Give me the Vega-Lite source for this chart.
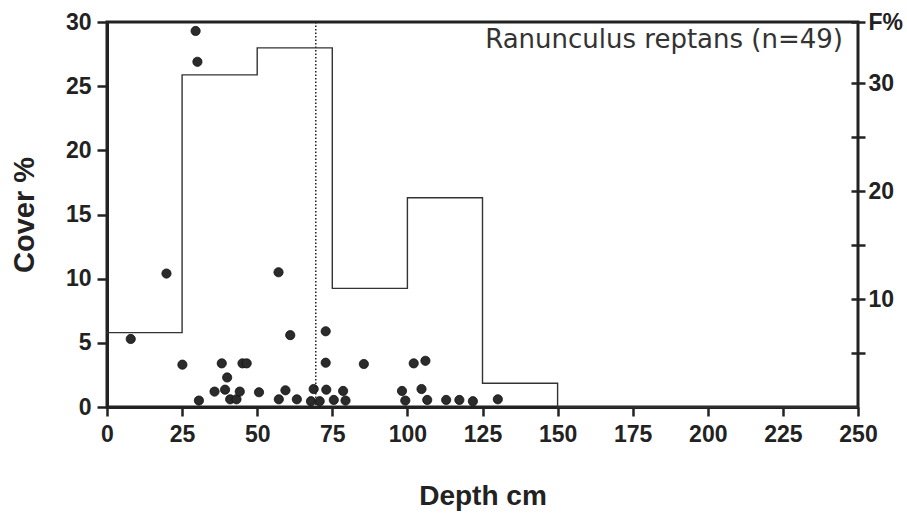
{
  "$schema": "https://vega.github.io/schema/vega-lite/v6.json",
  "width": 751,
  "height": 385,
  "autosize": {"type": "none"},
  "padding": {"left": 107, "top": 22, "right": 49, "bottom": 114},
  "background": "white",
  "config": {
    "view": {"stroke": "#222", "strokeWidth": 3},
    "axis": {
      "grid": false,
      "labelFlush": false,
      "labelOverlap": false,
      "labelFont": "Liberation Sans",
      "labelFontWeight": "bold",
      "labelColor": "#222",
      "titleFont": "Liberation Sans",
      "titleFontWeight": "bold",
      "titleColor": "#222",
      "domainColor": "#222",
      "tickColor": "#222"
    }
  },
  "layer": [
    {
      "layer": [
        {
          "data": {
            "values": [
              {"depth": 7.9, "cover": 5.3},
              {"depth": 19.8, "cover": 10.4},
              {"depth": 29.5, "cover": 29.3},
              {"depth": 30.1, "cover": 26.9},
              {"depth": 25.1, "cover": 3.3},
              {"depth": 30.6, "cover": 0.5},
              {"depth": 35.8, "cover": 1.2},
              {"depth": 38.2, "cover": 3.4},
              {"depth": 39.3, "cover": 1.35},
              {"depth": 40.0, "cover": 2.3},
              {"depth": 41.0, "cover": 0.6},
              {"depth": 43.1, "cover": 0.6},
              {"depth": 44.2, "cover": 1.2},
              {"depth": 45.1, "cover": 3.4},
              {"depth": 46.5, "cover": 3.4},
              {"depth": 50.6, "cover": 1.15},
              {"depth": 57.1, "cover": 10.5},
              {"depth": 57.2, "cover": 0.6},
              {"depth": 59.4, "cover": 1.3},
              {"depth": 61.0, "cover": 5.6},
              {"depth": 63.2, "cover": 0.6},
              {"depth": 68.8, "cover": 1.4},
              {"depth": 67.9, "cover": 0.45},
              {"depth": 70.8, "cover": 0.45},
              {"depth": 72.8, "cover": 5.9},
              {"depth": 72.8, "cover": 3.45},
              {"depth": 73.0, "cover": 1.35},
              {"depth": 75.5, "cover": 0.55},
              {"depth": 78.6, "cover": 1.25},
              {"depth": 79.4, "cover": 0.5},
              {"depth": 85.5, "cover": 3.35},
              {"depth": 98.2, "cover": 1.25},
              {"depth": 99.3, "cover": 0.5},
              {"depth": 102.1, "cover": 3.4},
              {"depth": 104.7, "cover": 1.4},
              {"depth": 106.0, "cover": 3.6},
              {"depth": 106.6, "cover": 0.55},
              {"depth": 112.9, "cover": 0.55},
              {"depth": 117.3, "cover": 0.55},
              {"depth": 121.8, "cover": 0.45},
              {"depth": 130.1, "cover": 0.6}
            ]
          },
          "mark": {"type": "circle", "size": 85, "color": "#2b2b2b", "opacity": 1, "stroke": "#111", "strokeWidth": 0.8},
          "encoding": {
            "x": {
              "field": "depth",
              "type": "quantitative",
              "scale": {"domain": [0, 250], "nice": false},
              "axis": {
                "title": "Depth cm",
                "values": [0, 25, 50, 75, 100, 125, 150, 175, 200, 225, 250],
                "labelFontSize": 23,
                "labelPadding": 7,
                "tickSize": 9,
                "tickWidth": 2.5,
                "domainWidth": 3,
                "titleFontSize": 28,
                "titlePadding": 36
              }
            },
            "y": {
              "field": "cover",
              "type": "quantitative",
              "scale": {"domain": [0, 30], "nice": false},
              "axis": {
                "title": "Cover %",
                "values": [0, 5, 10, 15, 20, 25, 30],
                "labelFontSize": 23,
                "labelPadding": 6,
                "tickSize": 10,
                "tickWidth": 2.5,
                "domainWidth": 3,
                "titleFontSize": 29,
                "titlePadding": 26
              }
            }
          }
        },
        {
          "data": {"values": [{"depth": 69.5}]},
          "mark": {"type": "rule", "strokeDash": [1.5, 2], "strokeWidth": 1.5, "color": "#222"},
          "encoding": {"x": {"field": "depth", "type": "quantitative"}}
        },
        {
          "data": {"values": [{"depth": 245, "cover": 27.95, "label": "Ranunculus reptans (n=49)"}]},
          "mark": {"type": "text", "align": "right", "baseline": "alphabetic", "font": "DejaVu Sans", "fontSize": 26, "color": "#333"},
          "encoding": {
            "x": {"field": "depth", "type": "quantitative"},
            "y": {"field": "cover", "type": "quantitative"},
            "text": {"field": "label"}
          }
        }
      ]
    },
    {
      "data": {
        "values": [
          {"depth": 0, "freq": 6.9},
          {"depth": 25, "freq": 30.8},
          {"depth": 50, "freq": 33.3},
          {"depth": 75, "freq": 11.0},
          {"depth": 100, "freq": 19.4},
          {"depth": 125, "freq": 2.2},
          {"depth": 150, "freq": 0},
          {"depth": 250, "freq": 0}
        ]
      },
      "mark": {"type": "line", "interpolate": "step-after", "color": "#333", "strokeWidth": 1.4},
      "encoding": {
        "x": {"field": "depth", "type": "quantitative"},
        "y": {
          "field": "freq",
          "type": "quantitative",
          "scale": {"domain": [0, 35.7], "nice": false},
          "axis": {
            "orient": "right",
            "title": null,
            "values": [5, 10, 15, 20, 25, 30, 35.7],
            "labelExpr": "datum.value == 10 ? '10' : datum.value == 20 ? '20' : datum.value == 30 ? '30' : datum.value > 35 ? 'F%' : ''",
            "labelFontSize": 23,
            "labelPadding": 3,
            "offset": -7,
            "tickSize": 14,
            "tickWidth": 2.5,
            "domain": false
          }
        }
      }
    }
  ],
  "resolve": {"scale": {"y": "independent"}}
}
